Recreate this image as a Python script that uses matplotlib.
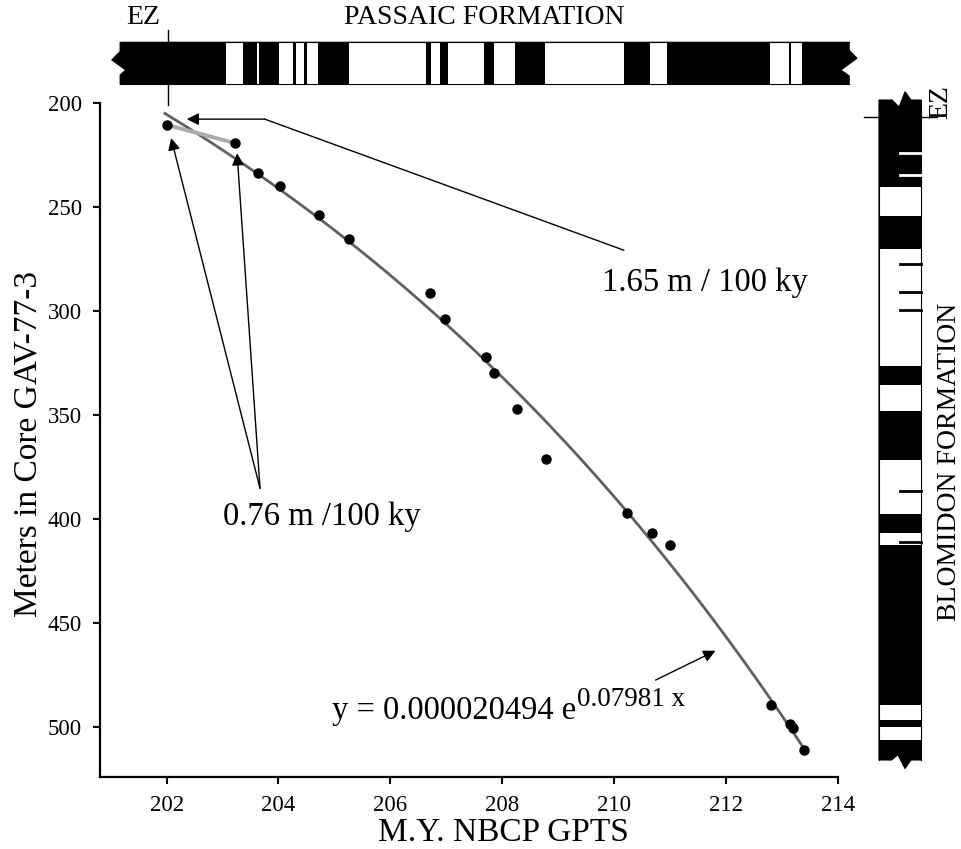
import numpy as np
import matplotlib
matplotlib.use('Agg')
import matplotlib.pyplot as plt
from matplotlib.patches import Polygon, Rectangle

plt.rcParams['font.family'] = ['Liberation Serif', 'DejaVu Serif']

# tie points : age (Ma, NBCP GPTS) vs depth in core (m)
age = [202.01, 203.23, 203.64, 204.02, 204.72, 205.26, 206.70, 206.97, 207.70,
       207.86, 208.26, 208.79, 210.22, 210.68, 211.00, 212.81, 213.14, 213.19, 213.39]
depth = [210.7, 219.5, 233.9, 239.9, 253.8, 265.4, 291.6, 304.1, 322.4,
         329.8, 347.3, 371.2, 397.4, 406.9, 412.5, 489.6, 498.7, 500.5, 511.1]

# exponential fit printed on the chart
fit_a = 0.000020494
fit_b = 0.07981
fit_range = (201.97, 213.36)

# Passaic formation polarity column (black intervals, Ma)
passaic_span = (201.17, 214.20)
passaic_black = [(201.17, 203.07), (203.37, 203.61), (203.65, 204.01), (204.26, 204.32),
                 (204.45, 204.51), (204.71, 205.26), (206.64, 206.73), (206.89, 207.03),
                 (207.68, 207.85), (208.23, 208.76), (210.17, 210.64), (210.95, 212.79),
                 (213.12, 213.16), (213.35, 214.20)]

# Blomidon formation column (black intervals, % down the column)
blomidon_black = [(0, 13.2), (17.6, 22.5), (40.3, 43.2), (47.1, 54.5), (62.8, 65.6),
                  (67.4, 91.7), (93.9, 95.0), (97.0, 100)]
blomidon_white_ticks = [8.0, 11.3]
blomidon_black_ticks = [24.9, 29.1, 31.8, 59.2, 66.9]
blomidon_ez = 2.5
ez_age = 202.02

fig = plt.figure(figsize=(9.61, 8.49), dpi=100)

# main plot
ax = fig.add_axes([100/961, 72/849, 738/961, 674.3/849])
ax.set_xlim(200.81, 214)
ax.set_ylim(524.2, 200)
ax.set_xticks(np.arange(202, 215, 2))
ax.set_yticks(np.arange(200, 501, 50))
ax.spines['top'].set_visible(False)
ax.spines['right'].set_visible(False)
ax.spines['left'].set_linewidth(1.6)
ax.spines['bottom'].set_linewidth(1.6)
ax.spines['left'].set_bounds(200, 524.2)
ax.tick_params(direction='out', length=5, width=1.5, labelsize=16.5, pad=8)

xs = np.linspace(fit_range[0], fit_range[1], 200)
ax.plot(xs, fit_a*np.exp(fit_b*xs), color='#606060', lw=2, zorder=2)
ax.plot(age[:2], depth[:2], color='#aaaaaa', lw=2.8, solid_capstyle='butt', zorder=3)
ax.plot(age, depth, 'o', color='k', ms=6.5, zorder=4)

ax.set_xlabel('M.Y. NBCP GPTS', fontsize=24)
ax.xaxis.set_label_coords(0.546, -0.060)
ax.set_ylabel('Meters in Core GAV-77-3', fontsize=24)
ax.yaxis.set_label_coords(-0.077, 0.494)

# EZ marker above plot
ax.plot([ez_age, ez_age], [165, 201], color='k', lw=1, clip_on=False)

aprops = dict(arrowstyle='-|>', color='k', lw=1, mutation_scale=18, shrinkA=0, shrinkB=0)

# 1.65 m / 100 ky
ax.text(209.78, 290.4, '1.65 m / 100 ky', fontsize=23.5, ha='left', va='baseline')
ax.plot([210.17, 203.755], [270.9, 207.9], color='k', lw=1)
ax.annotate('', xy=(202.36, 207.9), xytext=(203.755, 207.9), arrowprops=aprops)

# 0.76 m / 100 ky
ax.text(203.0, 403.0, '0.76 m /100 ky', fontsize=23.5, ha='left', va='baseline')
ax.annotate('', xy=(202.08, 217.0), xytext=(203.67, 385.4), arrowprops=aprops)
ax.annotate('', xy=(203.26, 224.3), xytext=(203.67, 385.4), arrowprops=aprops)

# fit equation
ax.text(204.95, 496.3, 'y = 0.000020494 e', fontsize=23.5, ha='left', va='baseline')
ax.text(209.33, 490.1, '0.07981 x', fontsize=19.5, ha='left', va='baseline')
ax.annotate('', xy=(211.81, 463.5), xytext=(210.74, 477.6), arrowprops=aprops)

# Passaic column
axp = fig.add_axes([100/961, (849-84.3)/849, 738/961, 42/849])
axp.set_xlim(ax.get_xlim())
axp.set_ylim(0, 1)
axp.axis('off')
x0, x1 = passaic_span
outline = [(x0, 1), (x0, 0.78), (x0-0.15, 0.58), (x0+0.10, 0.34), (x0, 0.22), (x0, 0),
           (x1, 0), (x1, 0.2), (x1-0.15, 0.34), (x1+0.14, 0.62), (x1, 0.81), (x1, 1)]
axp.add_patch(Polygon(outline, closed=True, fc='k', ec='k', lw=0.8, clip_on=False))
for (a0, a1), (b0, b1) in zip(passaic_black[:-1], passaic_black[1:]):
    axp.add_patch(Rectangle((a1, 0), b0-a1, 1, fc='white', ec='none', clip_on=False))
axp.plot([x0, x1], [1, 1], color='k', lw=0.8, clip_on=False)
axp.plot([x0, x1], [0, 0], color='k', lw=0.8, clip_on=False)

# Blomidon column
axb = fig.add_axes([879/961, 89/849, 42/961, 660/849])
axb.set_xlim(0, 1)
axb.set_ylim(100, 0)
axb.axis('off')
outline = [(0, 0), (0.31, 0), (0.48, 1.06), (0.62, -1.26), (0.76, 0), (1, 0),
           (1, 100), (0.76, 100), (0.62, 101.3), (0.45, 99.2), (0.3, 100), (0, 100)]
axb.add_patch(Polygon(outline, closed=True, fc='k', ec='k', lw=0.8, clip_on=False))
for (a0, a1), (b0, b1) in zip(blomidon_black[:-1], blomidon_black[1:]):
    axb.add_patch(Rectangle((0, a1), 1, b0-a1, fc='white', ec='none', clip_on=False))
axb.plot([0, 0], [0, 100], color='k', lw=0.8, clip_on=False)
axb.plot([1, 1], [0, 100], color='k', lw=0.8, clip_on=False)
for t in blomidon_white_ticks:
    axb.plot([0.5, 1], [t, t], color='white', lw=2, clip_on=False)
for t in blomidon_black_ticks:
    axb.plot([0.5, 1], [t, t], color='k', lw=2, clip_on=False)
axb.plot([-0.357, 1.38], [blomidon_ez, blomidon_ez], color='k', lw=1, clip_on=False)

# column labels
fig.text(143/961, 1-17/849, 'EZ', fontsize=20, ha='center', va='center')
fig.text(484/961, 1-17/849, 'PASSAIC FORMATION', fontsize=20, ha='center', va='center')
fig.text(941/961, 1-102/849, 'EZ', fontsize=20, rotation=90, ha='center', va='center')
fig.text(950/961, 1-462/849, 'BLOMIDON FORMATION', fontsize=20, rotation=90,
         ha='center', va='center')

fig.savefig('out.png', dpi=100)
